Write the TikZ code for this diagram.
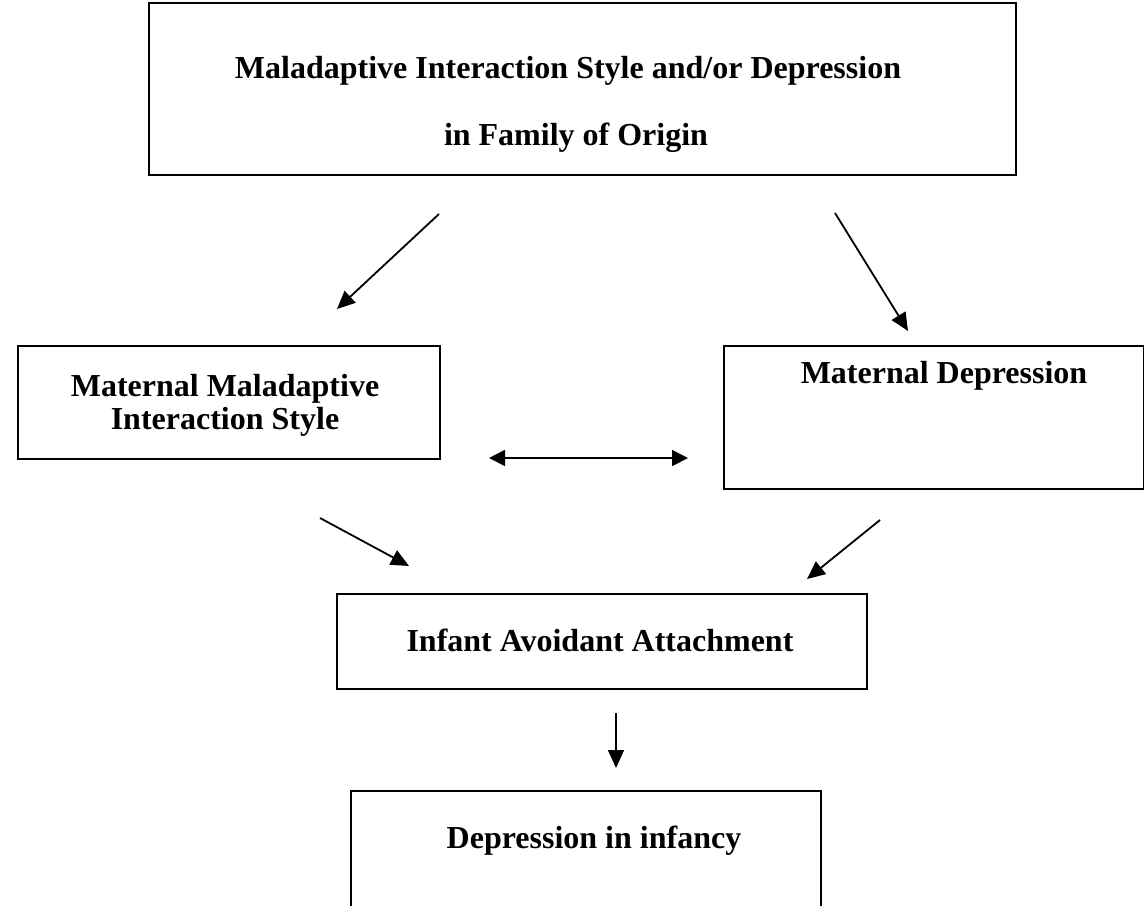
\documentclass[tikz,border=0pt]{standalone}
\usepackage{fontspec}
\setmainfont{Liberation Serif}
\usetikzlibrary{arrows.meta}

\tikzset{
  box/.style={draw, line width=1pt, inner sep=0pt, anchor=north west},
  lbl/.style={font=\fontsize{16}{18}\selectfont\bfseries, anchor=base, inner sep=0pt},
  arr/.style={-{Triangle[length=9pt,width=8pt]}, line width=0.9pt},
  twoarr/.style={{Triangle[length=8pt,width=8pt]}-{Triangle[length=8pt,width=8pt]}, line width=0.9pt},
}

\begin{document}
\begin{tikzpicture}[x=0.5pt,y=-0.5pt]
            \useasboundingbox (0,0) rectangle (1144,905);
            \clip (0,0) rectangle (1144,905);
            % boxes
            \node[box, minimum width=433.5pt, minimum height=86pt] (origin) at (148,2) {};
            \node[box, minimum width=211pt, minimum height=56.5pt] (matstyle) at (17,345) {};
            \node[box, minimum width=210pt, minimum height=71.5pt] (matdep) at (723,345) {};
            \node[box, minimum width=265pt, minimum height=47.5pt] (avoid) at (336,593) {};
            \node[box, minimum width=235pt, minimum height=100pt] (infdep) at (350,790) {};
            % texts
            \node[lbl] (origina) at (568,78) {Maladaptive Interaction Style and/or Depression};
            \node[lbl] (originb) at (576,145) {in Family of Origin};
            \node[lbl] (matstylea) at (225,396) {Maternal Maladaptive};
            \node[lbl] (matstyleb) at (225,429) {Interaction Style};
            \node[lbl] (matdepa) at (944,383) {Maternal Depression};
            \node[lbl] (avoida) at (600,651) {Infant Avoidant Attachment};
            \node[lbl] (infdepa) at (594,848) {Depression in infancy};
            % arrow ends
            \coordinate (s1) at (439,214);
            \coordinate (e1) at (337,309);
            \coordinate (s2) at (835,213);
            \coordinate (e2) at (908,331);
            \coordinate (s3) at (489,458);
            \coordinate (e3) at (688,458);
            \coordinate (s4) at (320,518);
            \coordinate (e4) at (409,566);
            \coordinate (s5) at (880,520);
            \coordinate (e5) at (807,579);
            \coordinate (s6) at (616,713);
            \coordinate (e6) at (616,768);
            % arrows
            \draw[arr] (s1) -- (e1);
            \draw[arr] (s2) -- (e2);
            \draw[twoarr] (s3) -- (e3);
            \draw[arr] (s4) -- (e4);
            \draw[arr] (s5) -- (e5);
            \draw[arr] (s6) -- (e6);
\end{tikzpicture}
\end{document}
